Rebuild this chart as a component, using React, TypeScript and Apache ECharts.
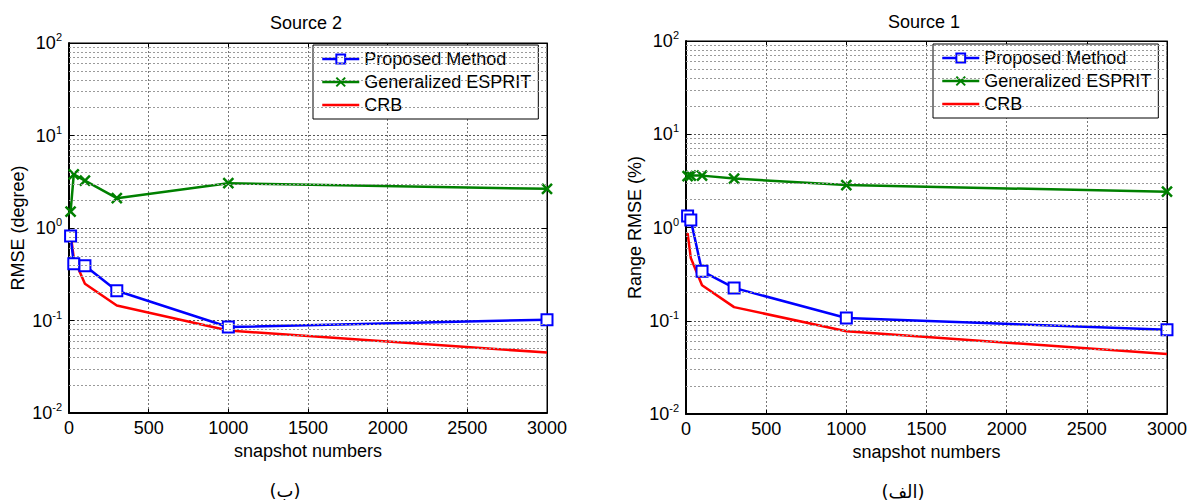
import React, { useEffect, useRef } from "react";
import * as echarts from "echarts";

const snapshots = [10, 30, 100, 300, 1000, 3000];

// Source 2 (left panel, RMSE in degrees)
const s2Proposed = [0.82, 0.41, 0.39, 0.21, 0.085, 0.102];
const s2Esprit = [1.5, 3.8, 3.25, 2.1, 3.05, 2.65];
const s2Crb = [0.88, 0.47, 0.25, 0.145, 0.078, 0.045];

// Source 1 (right panel, range RMSE in %)
const s1Proposed = [1.33, 1.2, 0.34, 0.225, 0.107, 0.08];
const s1Esprit = [3.55, 3.6, 3.6, 3.35, 2.85, 2.42];
const s1Crb = [0.87, 0.47, 0.24, 0.14, 0.077, 0.044];

const xTicks = [0, 500, 1000, 1500, 2000, 2500, 3000];
const decades = [0.01, 0.1, 1, 10];
const minorMultipliers = [2, 3, 4, 5, 6, 7, 8, 9];

const seriesNames = ["Proposed Method", "Generalized ESPRIT", "CRB"];
const titles = ["Source 2", "Source 1"];
const yNames = ["RMSE (degree)", "Range RMSE (%)"];
const captions = ["(ب)", "(الف)"];

const FONT = "Liberation Sans, Arial, sans-serif";
const FS = 18;

export default function App() {
  const ref = useRef<HTMLDivElement>(null);

  useEffect(() => {
    if (!ref.current) return;
    const chart = echarts.init(ref.current, null, { renderer: "svg" });

    const grids = [
      { left: 69, top: 43, width: 478, height: 370 },
      { left: 686, top: 41, width: 483, height: 373 },
    ];

    const minorValues: number[] = [];
    decades.forEach((d) => minorMultipliers.forEach((m) => minorValues.push(+(d * m).toPrecision(3))));

    const xAxes: any[] = [];
    const yAxes: any[] = [];
    grids.forEach((g, i) => {
      xAxes.push({
        gridIndex: i,
        type: "value",
        min: xTicks[0],
        max: xTicks[xTicks.length - 1],
        interval: 500,
        position: "bottom",
        axisLine: { onZero: false, lineStyle: { color: "#000", width: 2 } },
        axisTick: { inside: true, length: 4, lineStyle: { color: "#000" } },
        axisLabel: { fontSize: FS, color: "#000", margin: 6, fontFamily: FONT, formatter: (v: number) => String(v) },
        splitLine: { show: true, lineStyle: { color: "#777", type: [2, 2], width: 1 } },
        name: "snapshot numbers",
        nameLocation: "middle",
        nameGap: 27,
        nameTextStyle: { fontSize: FS, color: "#000", fontFamily: FONT },
      });
    });
    grids.forEach((g, i) => {
      xAxes.push({
        gridIndex: i,
        type: "value",
        min: xTicks[0],
        max: xTicks[xTicks.length - 1],
        interval: 500,
        position: "top",
        axisLine: { onZero: false, lineStyle: { color: "#000", width: 1 } },
        axisTick: { inside: true, length: 4, lineStyle: { color: "#000" } },
        axisLabel: { show: false },
        splitLine: { show: false },
      });
    });
    grids.forEach((g, i) => {
      yAxes.push({
        gridIndex: i,
        type: "log",
        logBase: 10,
        min: 0.01,
        max: 100,
        position: "left",
        axisLine: { onZero: false, lineStyle: { color: "#000", width: 2 } },
        axisTick: { inside: true, length: 5, lineStyle: { color: "#000" } },
        axisLabel: {
          margin: 7,
          color: "#000",
          formatter: (v: number) => "{b|10}{s|" + Math.round(Math.log10(v)) + "}",
          rich: {
            b: { fontSize: FS, fontFamily: FONT, color: "#000" },
            s: { fontSize: 11, fontFamily: FONT, color: "#000", padding: [0, 0, 12, 0] },
          },
        },
        splitLine: { show: true, lineStyle: { color: "#555", type: [2, 2], width: 1 } },
        name: yNames[i],
        nameLocation: "middle",
        nameGap: 42,
        nameTextStyle: { fontSize: FS, color: "#000", fontFamily: FONT },
      });
    });
    grids.forEach((g, i) => {
      yAxes.push({
        gridIndex: i,
        type: "log",
        logBase: 10,
        min: 0.01,
        max: 100,
        position: "right",
        axisLine: { onZero: false, lineStyle: { color: "#000", width: 1 } },
        axisTick: { inside: true, length: 5, lineStyle: { color: "#000" } },
        axisLabel: { show: false },
        splitLine: { show: false },
      });
    });

    const panelData = [
      [s2Proposed, s2Esprit, s2Crb],
      [s1Proposed, s1Esprit, s1Crb],
    ];

    const series: any[] = [];
    panelData.forEach((arrs, i) => {
      series.push({
        type: "line",
        xAxisIndex: i,
        yAxisIndex: i,
        data: [],
        silent: true,
        z: 1,
        markLine: {
          silent: true,
          symbol: ["none", "none"],
          label: { show: false },
          lineStyle: { color: "#9a9a9a", type: [2, 2], width: 1 },
          data: minorValues.map((v) => ({ yAxis: v })),
        },
      });
      series.push({
        name: seriesNames[0],
        type: "line",
        xAxisIndex: i,
        yAxisIndex: i,
        data: snapshots.map((x, k) => [x, arrs[0][k]]),
        symbol: "rect",
        symbolSize: 11,
        lineStyle: { color: "#0000ff", width: 2.5 },
        itemStyle: { color: "#ffffff", borderColor: "#0000ff", borderWidth: 2 },
        z: 4,
      });
      series.push({
        name: seriesNames[1],
        type: "line",
        xAxisIndex: i,
        yAxisIndex: i,
        data: snapshots.map((x, k) => [x, arrs[1][k]]),
        symbol: "path://M0,0L10,10M10,0L0,10",
        symbolSize: 10,
        lineStyle: { color: "#008000", width: 2.5 },
        itemStyle: { color: "#008000", borderColor: "#008000", borderWidth: 2.5 },
        z: 3,
      });
      series.push({
        name: seriesNames[2],
        type: "line",
        xAxisIndex: i,
        yAxisIndex: i,
        data: snapshots.map((x, k) => [x, arrs[2][k]]),
        symbol: "none",
        showSymbol: false,
        lineStyle: { color: "#ff0000", width: 2.5 },
        itemStyle: { color: "#ff0000" },
        z: 2,
      });
    });

    const legendBase = {
      orient: "vertical",
      data: [seriesNames[0], seriesNames[1], { name: seriesNames[2], itemStyle: { opacity: 0 } }],
      backgroundColor: "#fff",
      borderColor: "#000",
      borderWidth: 1,
      padding: [5, 7, 5, 8],
      itemGap: 5,
      itemWidth: 37,
      itemHeight: 11,
      selectedMode: false,
      lineStyle: { width: 2.5 },
      textStyle: { fontSize: FS, color: "#000", fontFamily: FONT },
    };

    chart.setOption({
      animation: false,
      grid: grids.map((g) => ({ ...g, show: true, borderColor: "#000", borderWidth: 1, backgroundColor: "#fff" })),
      xAxis: xAxes,
      yAxis: yAxes,
      legend: [
        { ...legendBase, left: 313, top: 45 },
        { ...legendBase, left: 933, top: 44 },
      ],
      series,
      graphic: [
        { type: "text", x: 306, y: 23, style: { text: titles[0], fontSize: FS, fontFamily: FONT, fill: "#000", textAlign: "center", textVerticalAlign: "middle" } },
        { type: "text", x: 924, y: 22, style: { text: titles[1], fontSize: FS, fontFamily: FONT, fill: "#000", textAlign: "center", textVerticalAlign: "middle" } },
        { type: "text", x: 285, y: 490, style: { text: captions[0], fontSize: FS, fontFamily: "DejaVu Sans", fill: "#000", textAlign: "center", textVerticalAlign: "middle" } },
        { type: "text", x: 903, y: 491, style: { text: captions[1], fontSize: FS, fontFamily: "DejaVu Sans", fill: "#000", textAlign: "center", textVerticalAlign: "middle" } },
      ],
    });

    return () => chart.dispose();
  }, []);

  return <div ref={ref} style={{ width: 1190, height: 500, position: "absolute", left: 0, top: 0, background: "#fff" }} />;
}
